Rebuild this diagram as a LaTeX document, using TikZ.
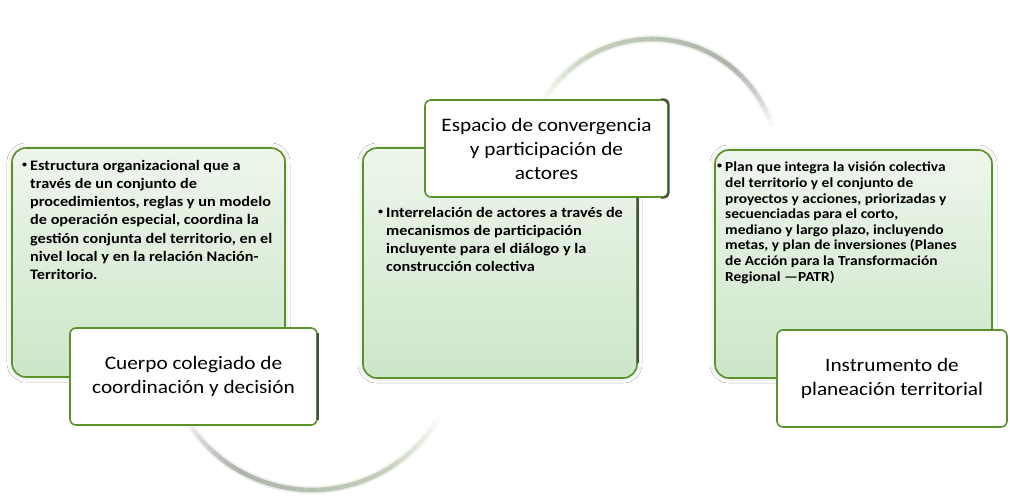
\documentclass[tikz,border=0pt]{standalone}
\usepackage{fontspec}
\setmainfont{Carlito}[FakeStretch=1.12]
\usetikzlibrary{calc,shadows.blur}

\definecolor{frame}{RGB}{88,146,40}
\definecolor{fillhi}{RGB}{238,246,236}
\definecolor{filllo}{RGB}{204,230,200}
\definecolor{arcgray}{RGB}{150,153,150}
\definecolor{arcgreen}{RGB}{200,218,186}
\definecolor{edgegray}{RGB}{72,76,72}

\tikzset{
  panel/.style={draw=frame, line width=1.6pt, rounded corners=14pt,
    top color=fillhi, bottom color=filllo, inner sep=0pt,
    blur shadow={shadow xshift=0pt, shadow yshift=0pt,
      shadow blur radius=5pt, shadow opacity=18}},
  titlebox/.style={draw=frame, line width=1.6pt, fill=white,
    rounded corners=6pt, inner sep=0pt},
  bodytext/.style={font=\bfseries\fontsize{14.5}{18.2}\selectfont,
    align=left, anchor=north west, inner sep=0pt},
  smalltext/.style={bodytext, font=\bfseries\fontsize{13.8}{15.6}\selectfont},
  bulletmark/.style={font=\bfseries\fontsize{9}{10}\selectfont,
    anchor=base west, inner sep=0pt},
  titletext/.style={font=\fontsize{19}{24}\selectfont, align=center,
    inner sep=0pt},
  sideshade/.style={draw=edgegray, line width=1.8pt, rounded corners=5pt},
}

% one faded, colour-graded stroke of the cycle
\newcommand{\cyclearc}[6]{% centre, radius, start, end, colour at start, colour at end
  \foreach \k in {0,...,39}{
    \pgfmathsetmacro{\a}{#3+(#4-#3)*\k/40}
    \pgfmathsetmacro{\b}{#3+(#4-#3)*(\k+1)/40}
    \pgfmathsetmacro{\t}{(\k+0.5)/40}
    \pgfmathsetmacro{\op}{0.85*min(1,min(4*\t,4*(1-\t)))}
    \pgfmathsetmacro{\pc}{100*(1-\t)}
    \draw[line width=8pt, draw=#5!\pc!#6, draw opacity=0.25*\op]
      ($(#1)+(\a:#2)$) arc[start angle=\a, end angle=\b, radius=#2];
    \draw[line width=4.5pt, draw=#5!\pc!#6, draw opacity=\op]
      ($(#1)+(\a:#2)$) arc[start angle=\a, end angle=\b, radius=#2];
  }
}

\begin{document}
\begin{tikzpicture}[x=1pt, y=-1pt]
  \useasboundingbox[fill=white] (0,0) rectangle (1010,498);

  % cycle strokes behind the panels
  \coordinate (topc) at (652,165);
  \coordinate (botc) at (312,343);
  \cyclearc{topc}{126}{208}{342}{arcgreen}{arcgray}
  \cyclearc{botc}{147}{150}{30}{arcgray}{arcgreen}

  % left group
  \node[panel, minimum width=273pt, minimum height=229pt] (lbody) at (148.5,262.5) {};
  \node[titlebox, minimum width=247pt, minimum height=97pt] (ltitle) at (193.5,376.5) {};
  \draw[sideshade] ($(ltitle.north east)+(0,6)$) -- ($(ltitle.south east)+(0,-6)$);
  \node[bulletmark] (lbul) at (22,167) {\textbullet};
  \node[bodytext] (ltext) at (30,160) {Estructura organizacional que a\\
    través de un conjunto de\\
    procedimientos, reglas y un modelo\\
    de operación especial, coordina la\\
    gestión conjunta del territorio, en el\\
    nivel local y en la relación Nación-\\
    Territorio.};
  \node[titletext] (lname) at (ltitle.center) {Cuerpo colegiado de\\coordinación y decisión};

  % middle group
  \node[panel, minimum width=274pt, minimum height=230pt] (mbody) at (500,263) {};
  \node[titlebox, minimum width=243pt, minimum height=97pt] (mtitle) at (546.5,148.5) {};
  \draw[sideshade] ($(mtitle.north east)+(-8,0)$) -- (mtitle.north east)
    -- (mtitle.south east) -- ($(mtitle.south east)+(-8,0)$);
  \draw[sideshade, rounded corners=0pt] (mbody.east |- mtitle.south)
    -- ($(mbody.south east)+(0,-16)$);
  \node[bulletmark] (mbul) at (378,214) {\textbullet};
  \node[bodytext] (mtext) at (386,207) {Interrelación de actores a través de\\
    mecanismos de participación\\
    incluyente para el diálogo y la\\
    construcción colectiva};
  \node[titletext] (mname) at (mtitle.center) {Espacio de convergencia\\y participación de\\actores};

  % right group
  \node[panel, minimum width=277pt, minimum height=228pt] (rbody) at (853.5,264) {};
  \node[titlebox, minimum width=230pt, minimum height=97pt] (rtitle) at (892,378.5) {};
  \node[bulletmark] (rbul) at (717,168) {\textbullet};
  \node[smalltext] (rtext) at (725,162) {Plan que integra la visión colectiva\\
    del territorio y el conjunto de\\
    proyectos y acciones, priorizadas y\\
    secuenciadas para el corto,\\
    mediano y largo plazo, incluyendo\\
    metas, y plan de inversiones (Planes\\
    de Acción para la Transformación\\
    Regional —PATR)};
  \node[titletext] (rname) at (rtitle.center) {Instrumento de\\planeación territorial};
\end{tikzpicture}
\end{document}
